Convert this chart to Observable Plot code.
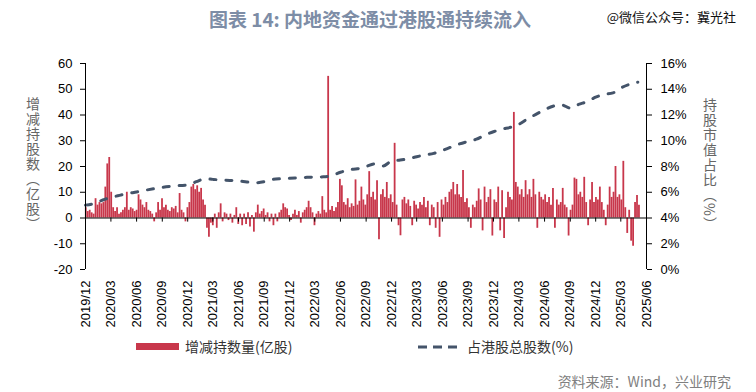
<!DOCTYPE html>
<html><head><meta charset="utf-8">
<script src="https://cdn.jsdelivr.net/npm/d3@7"></script>
<script src="https://cdn.jsdelivr.net/npm/@observablehq/plot@0.6"></script>
<style>
html,body{margin:0;padding:0;background:#fff;}
#wrap{position:relative;width:756px;height:392px;overflow:hidden;font-family:"Noto Sans CJK SC","Noto Sans",sans-serif;}
#title{position:absolute;left:-8px;width:756px;top:6px;line-height:26px;text-align:center;font-size:19px;font-weight:700;color:#7d8da6;}
#wm{position:absolute;right:20px;top:8px;line-height:18px;font-size:13px;color:#111;}
#chart{position:absolute;left:0;top:40px;}
.vlab{position:absolute;writing-mode:vertical-rl;text-orientation:mixed;font-size:14px;line-height:16px;color:#666;letter-spacing:1px;}
.leg{position:absolute;font-size:14px;line-height:18px;color:#333;}
#src{position:absolute;right:25px;top:371px;font-size:14px;line-height:20px;color:#808080;}
</style></head>
<body><div id="wrap">
<div id="title">图表 14: 内地资金通过港股通持续流入</div>
<div id="wm">@微信公众号：冀光社</div>
<div id="chart"></div>
<div class="vlab" id="ylL" style="left:25px;top:97px;">增减持股数（亿股）</div>
<div class="vlab" id="ylR" style="left:702px;top:98px;">持股市值占比（%）</div>
<div style="position:absolute;left:136px;top:343px;width:43px;height:7px;background:#c8374b;"></div>
<div class="leg" style="left:185px;top:337px;">增减持数量(亿股)</div>
<svg style="position:absolute;left:415px;top:343px;" width="50" height="8"><line x1="3" y1="4" x2="48" y2="4" stroke="#44546a" stroke-width="3" stroke-dasharray="9,6"/></svg>
<div class="leg" style="left:467px;top:337px;">占港股总股数(%)</div>
<div id="src">资料来源：Wind，兴业研究</div>
</div>
<script>
// weekly net change in holdings (亿股), week starting 2019-12-02
const bars2019 = [4, 2.5, 3, 2, 1.5];
const bars2020 = [7.5, 5, 6, 5.5, 6, 12, 21, 23.5, 10, 4, 2.5, 4, 1.5, 2, 3, 4, 10, 3, 4, 3.5, 2.5, 3, 9, 7, 5, 4, 6, 3, 2.5, 1.5, -1.5, 2, 6, 3, 7.5, 4, 5, 3, 2.5, 4, 3.5, 4.5, 2, 9.5, 3, 2, -1.5, 4, 6, 12, 13, 11];
const bars2021 = [12.5, 10, 11.5, 7, 5, -4, -7.5, -2, -3, 1.5, -4, 2, 5.5, -1.5, 2, 1.5, -1, 1.5, -2, 1, 4, -2.5, 1.5, -3, 1.5, -2.5, 2, -3.5, 1, -5.5, 2, 5, 1.5, 2.5, 3.5, 1, 2, -1.5, 1.5, -3, 1.5, -1.5, 2, 3, 5.5, 4, 3.5, 1, -1, 1.5, 3, 1];
const bars2022 = [2.5, -2, 2, 3, 4, 6.5, 4, 2, -3, 1.5, 2.5, 1.5, 8.3, 3, 2, 55, 3, 4.5, 2.5, 4, 6, 15, 12.5, 6, 5, 7.5, 4, 5.5, 4.5, 14.8, 5, 6.5, 12, 7, 5, 9, 18, 8, 10, 7, 14.5, -8.4, 9, 11, 8, 13.8, 7.5, 9, 6, 29, 5, -3];
const bars2023 = [-6.9, 7, 8, 5.5, 7, 4.5, -3, 6.5, 5, 3.5, 6, 5, 8, 4, 6.5, -3, 5, 4, -4, 6, -7.5, 7, 5, 8, 6, 10, 11, 13.8, 9, 13, 9, 8, 18.4, 6, 7.5, 4, -4, 5, 4, 6.5, 11.3, 7, -5, 12, 6, 8, 11, -7, 7, 6, 12, -5];
const bars2024 = [10.6, -8, 4, 10, 8, 7, 41, 13.8, 12, 9, 11, 8, 14.5, 9, 11, 8, 15, 9, -4, 10, 8, 7, 9, 6, 8, 5, 11.5, -4, 7, 5, 6, 11.5, 5, 4, -7, 3, 5, 15.5, 15, 9, 10, 8, 15.8, 6, -3, 7, 13.8, 6, 8, 7, 12, 6, 3];
const bars2025 = [-3, 5, 12, 8, 10, 20, 8, 9, 7, 22, 4, -6, 3, -9, -11, 6, 8.7, 5];
// share of HK total shares held (%), monthly from 2019-12
const sharePct = [5.0, 5.12, 5.4, 5.6, 5.76, 5.9, 6.02, 6.15, 6.27, 6.38, 6.46, 6.52, 6.56, 6.82, 7.05, 7.0, 6.95, 6.92, 6.88, 6.8, 6.74, 6.82, 7.0, 7.05, 7.08, 7.12, 7.16, 7.18, 7.2, 7.3, 7.55, 7.75, 7.82, 8.0, 8.2, 8.04, 8.42, 8.5, 8.62, 8.76, 8.9, 9.02, 9.25, 9.5, 9.75, 9.95, 10.12, 10.45, 10.7, 10.9, 11.05, 11.28, 11.7, 12.05, 12.4, 12.68, 12.78, 12.54, 12.82, 13.05, 13.38, 13.6, 13.72, 14.1, 14.38, 14.55];
const leftTicks = [-20, -10, 0, 10, 20, 30, 40, 50, 60];
const rightTicks = [0, 2, 4, 6, 8, 10, 12, 14, 16];

const weekStart = Date.UTC(2019, 11, 2);
const allBars = [].concat(bars2019, bars2020, bars2021, bars2022, bars2023, bars2024, bars2025);
const barData = allBars.map((v, i) => ({date: new Date(weekStart + i * 7 * 86400000), v}));
const lineData = sharePct.map((p, i) => ({date: new Date(Date.UTC(2019, 11 + i, 1)), p}));
const x0 = new Date(Date.UTC(2019, 11, 1)), x1 = new Date(Date.UTC(2025, 5, 1));
const xTicks = d3.utcMonth.range(x0, new Date(Date.UTC(2025, 5, 2)), 3);
const toLeft = p => (p - 4) * 5; // right axis % mapped onto left axis units
const fmt = d3.utcFormat("%Y/%m");

const chart = Plot.plot({
  width: 756, height: 300,
  marginLeft: 85, marginRight: 110, marginTop: 23, marginBottom: 71,
  style: {fontFamily: "'Liberation Sans', Arial, sans-serif", fontSize: "13px", color: "#000", background: "transparent"},
  x: {type: "utc", domain: [x0, x1]},
  y: {domain: [-20, 60]},
  marks: [
    Plot.ruleX(barData, {x: "date", y1: 0, y2: "v", stroke: "#c8374b", strokeWidth: 1.8}),
    Plot.ruleY([0], {stroke: "#000", strokeWidth: 1}),
    Plot.ruleX(xTicks, {x: d => d, y1: 0, y2: -1.6, stroke: "#000", strokeWidth: 1}),
    Plot.line(lineData, {x: "date", y: d => toLeft(d.p), stroke: "#44546a", strokeWidth: 3, strokeDasharray: "6,10", strokeLinecap: "round", curve: "monotone-x"}),
    Plot.ruleX([x0, x1], {y1: -20, y2: 60, stroke: "#000", strokeWidth: 1}),
    Plot.axisY({anchor: "left", ticks: leftTicks, tickFormat: d => String(d), tickSize: 5, tickPadding: 8, label: null}),
    Plot.axisY({anchor: "right", ticks: rightTicks.map(toLeft), tickFormat: d => (d / 5 + 4) + "%", tickSize: 5, tickPadding: 9, label: null}),
    Plot.axisX({anchor: "bottom", ticks: xTicks, tickFormat: fmt, tickRotate: -90, tickSize: 0, tickPadding: 11, label: null, style: {letterSpacing: "1.3px"}})
  ]
});
document.getElementById("chart").appendChild(chart);
</script>
</body></html>
